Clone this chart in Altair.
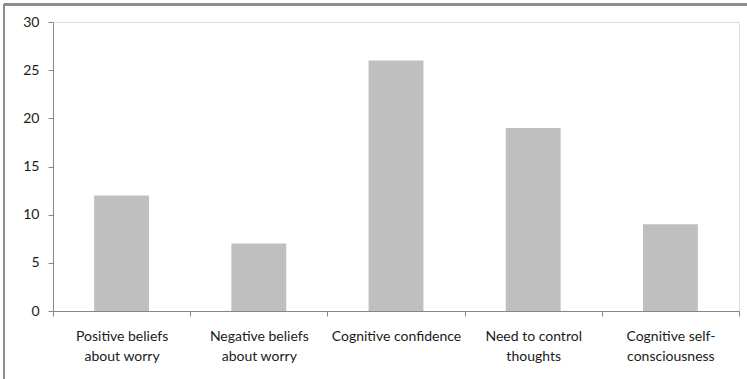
import altair as alt
import pandas as pd

# Metacognitions questionnaire subscales (two-line axis labels split on newline)
categories = [
    "Positive beliefs\nabout worry",
    "Negative beliefs\nabout worry",
    "Cognitive confidence",
    "Need to control\nthoughts",
    "Cognitive self-\nconsciousness",
]
values = [12, 7, 26, 19, 9]

df = pd.DataFrame({"category": categories, "value": values})

FONT = "Lato"
AXIS_GREY = "#868686"

bars = (
    alt.Chart(df)
    .mark_bar(color="#BFBFBF", width=alt.RelativeBandSize(0.4))
    .encode(
        x=alt.X(
            "category:N",
            sort=categories,
            title=None,
            scale=alt.Scale(paddingInner=0, paddingOuter=0),
            axis=alt.Axis(
                labelAngle=0,
                tickBand="extent",
                labelExpr="split(datum.label, '\\n')",
                labelLineHeight=20,
                labelPadding=13,
                labelFont=FONT,
                labelFontSize=14,
                labelColor="#1a1a1a",
                domainColor=AXIS_GREY,
                tickColor=AXIS_GREY,
                tickSize=5,
                labelLimit=200,
            ),
        ),
        y=alt.Y(
            "value:Q",
            title=None,
            scale=alt.Scale(domain=[0, 30], nice=False),
            axis=alt.Axis(
                values=[0, 5, 10, 15, 20, 25, 30],
                grid=False,
                labelFont=FONT,
                labelFontSize=14,
                labelColor="#1a1a1a",
                labelPadding=9,
                domainColor=AXIS_GREY,
                tickColor=AXIS_GREY,
                tickSize=5,
            ),
        ),
    )
)

# Frame lines around the figure (top and left edges)
frame_top = alt.Chart(df).mark_rule(color="#8c8c8c", strokeWidth=2).encode(
    x=alt.value(-49), x2=alt.value(700), y=alt.value(-17.5)
)
frame_left = alt.Chart(df).mark_rule(color="#8c8c8c", strokeWidth=2).encode(
    x=alt.value(-49), y=alt.value(-18), y2=alt.value(370)
)

chart = (
    alt.layer(bars, frame_top, frame_left)
    .properties(
        width=686,
        height=289,
        autosize=alt.AutoSizeParams(type="none"),
        padding={"left": 53, "top": 22, "right": 8, "bottom": 68},
    )
    .configure_view(stroke=None)
    .configure(background="white")
)

chart.save("out.html", embed_options={"renderer": "svg", "actions": False})
